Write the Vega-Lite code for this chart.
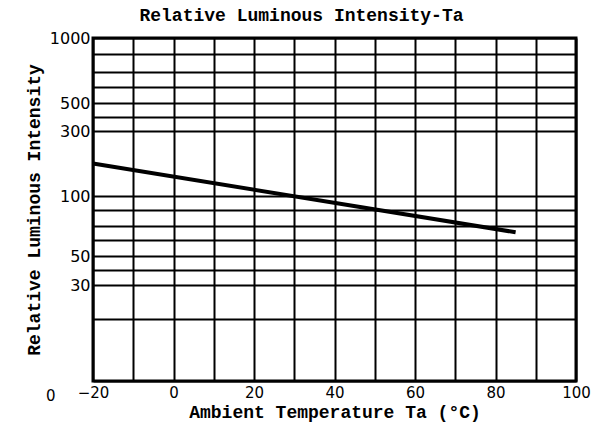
{
  "$schema": "https://vega.github.io/schema/vega-lite/v6.json",
  "width": 483,
  "height": 343,
  "autosize": {"type": "none"},
  "padding": {"left": 93, "top": 38, "right": 17, "bottom": 49},
  "background": "white",
  "title": {
    "text": "Relative Luminous Intensity-Ta",
    "font": "Liberation Mono",
    "fontSize": 18,
    "fontWeight": "bold",
    "color": "black",
    "anchor": "middle",
    "frame": "group",
    "dx": -33,
    "offset": 5
  },
  "config": {
    "view": {"stroke": "black", "strokeWidth": 3},
    "axis": {
      "domain": false,
      "ticks": false,
      "grid": true,
      "gridColor": "black",
      "gridWidth": 2,
      "gridOpacity": 1,
      "labelFont": "DejaVu Sans",
      "labelFontSize": 16,
      "labelColor": "black",
      "labelOverlap": false,
      "titleFont": "Liberation Mono",
      "titleFontWeight": "bold",
      "titleFontSize": 18,
      "titleColor": "black"
    }
  },
  "datasets": {
    "curve": [
      {"ta": -20, "intensity": 200},
      {"ta": 85, "intensity": 65.5}
    ],
    "stray": [
      {"ta": -30.5, "intensity": 10, "label": "0"}
    ]
  },
  "layer": [
    {
      "data": {"name": "curve"},
      "mark": {"type": "line", "color": "black", "strokeWidth": 4},
      "encoding": {
        "x": {
          "field": "ta",
          "type": "quantitative",
          "scale": {"domain": [-20, 100], "nice": false, "zero": false},
          "axis": {
            "values": [-20, -10, 0, 10, 20, 30, 40, 50, 60, 70, 80, 90, 100],
            "tickCount": 30,
            "labelExpr": "datum.value % 20 === 0 ? (datum.value < 0 ? '\u2212' + abs(datum.value) : datum.value) : ''",
            "labelFontSize": 15,
            "labelPadding": 4,
            "labelBound": false,
            "labelFlush": false,
            "title": "Ambient Temperature Ta (°C)",
            "titlePadding": 3
          }
        },
        "y": {
          "field": "intensity",
          "type": "quantitative",
          "scale": {
            "type": "linear",
            "nice": false,
            "zero": false,
            "domain": [10, 20, 30, 40, 50, 60, 70, 80, 100, 300, 400, 500, 600, 700, 800, 1000],
            "range": [343, 281, 247, 232, 218, 202, 188, 172, 158, 93, 79, 65, 49, 34, 16, 0]
          },
          "axis": {
            "values": [10, 20, 30, 40, 50, 60, 70, 80, 100, 300, 400, 500, 600, 700, 800, 1000],
            "tickCount": 40,
            "labelExpr": "indexof([1000, 500, 300, 100, 50, 30], datum.value) >= 0 ? datum.value : ''",
            "labelPadding": 3,
            "labelBound": false,
            "labelFlush": false,
            "title": "Relative Luminous Intensity",
            "titlePadding": 6
          }
        }
      }
    },
    {
      "data": {"name": "stray"},
      "mark": {"type": "text", "font": "DejaVu Sans", "fontSize": 15, "color": "black", "baseline": "top", "dy": 8},
      "encoding": {
        "x": {"field": "ta", "type": "quantitative"},
        "y": {"field": "intensity", "type": "quantitative"},
        "text": {"field": "label"}
      }
    }
  ]
}
